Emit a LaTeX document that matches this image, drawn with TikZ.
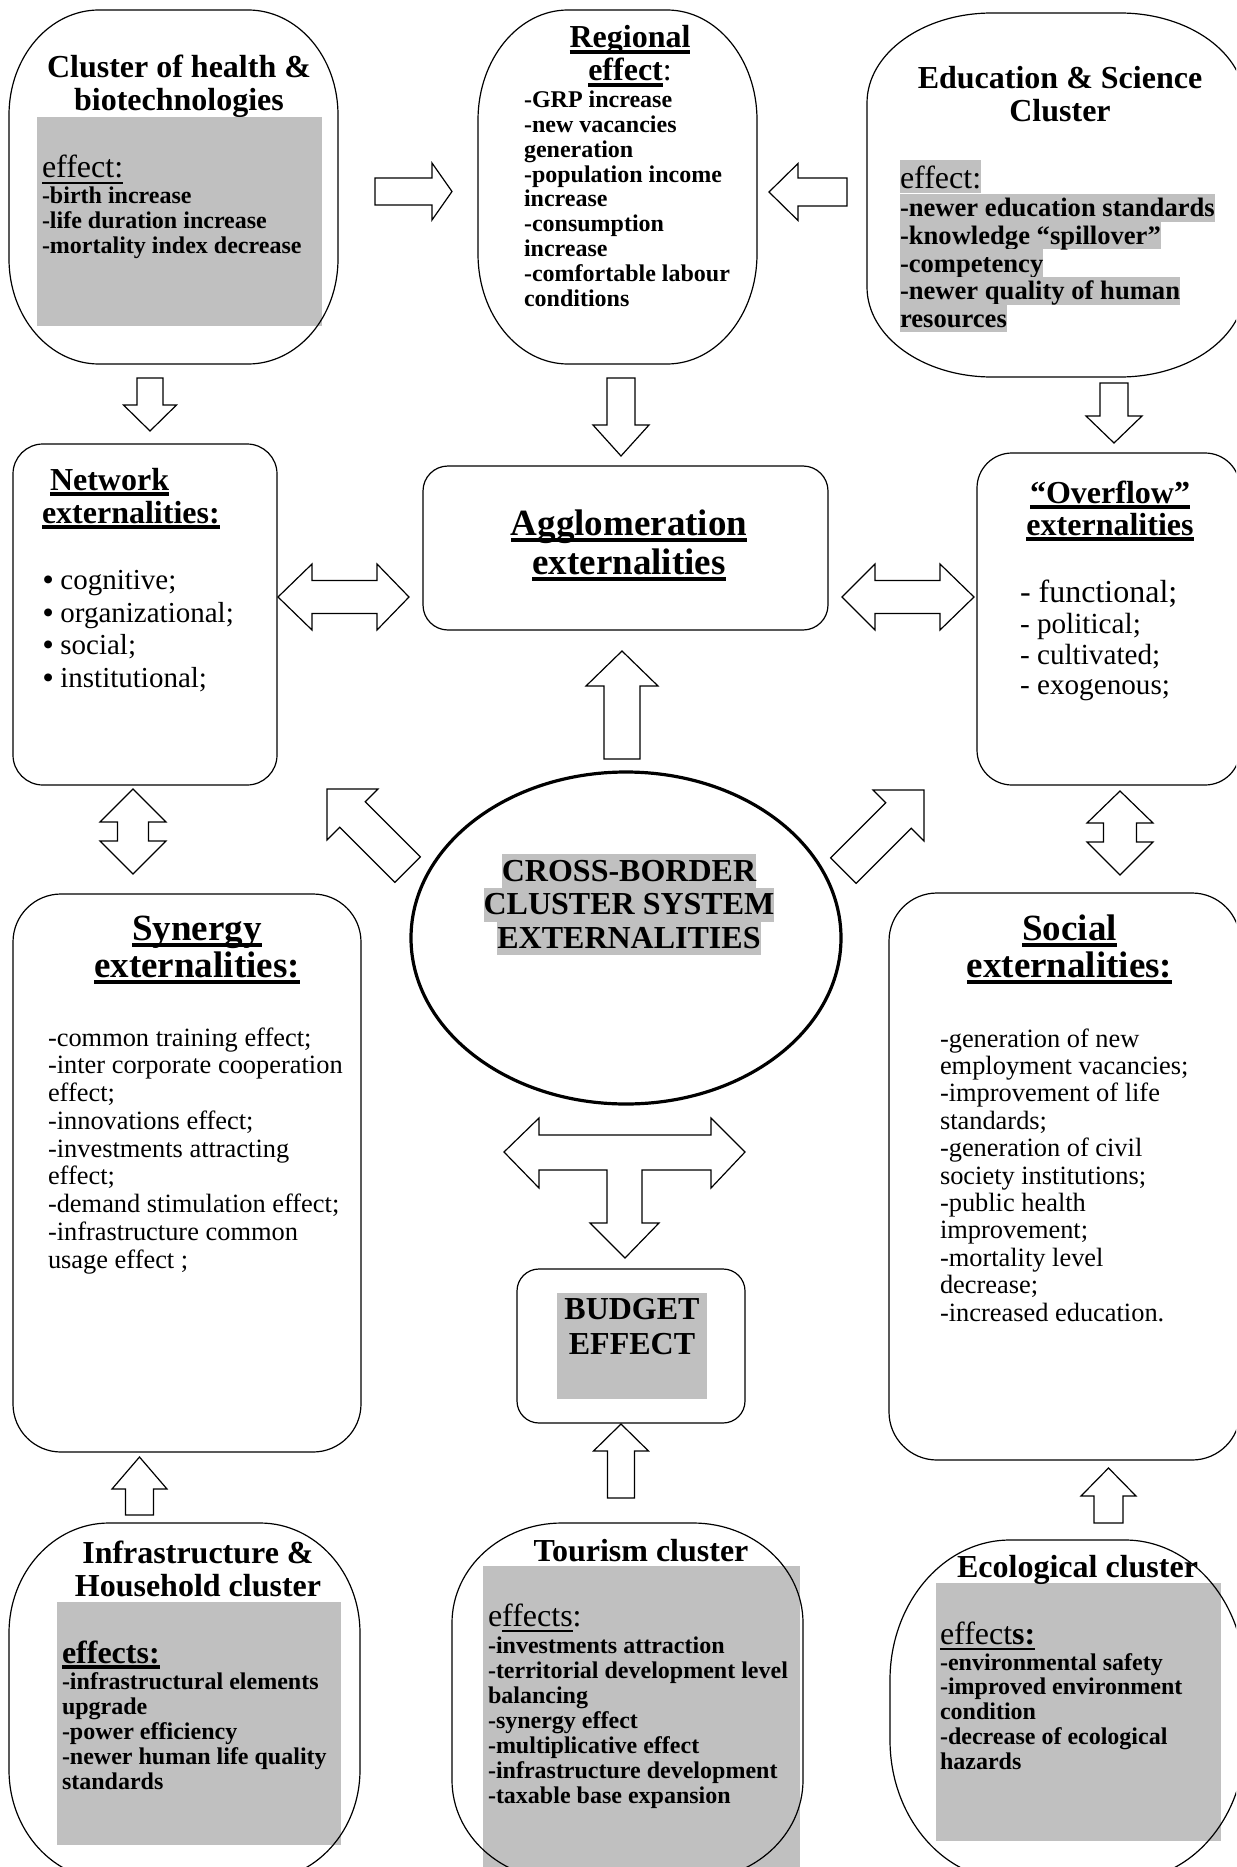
\documentclass[tikz,border=0pt]{standalone}
\usepackage{fontspec}
\setmainfont{Liberation Serif}
\usetikzlibrary{shapes.geometric}
\definecolor{hl}{RGB}{192,192,192}

% underline with a rule whose thickness follows the font size
\newcommand\undl[2][0.11em]{\leavevmode\setbox0=\hbox{#2}\rlap{\rule[-0.18em]{\wd0}{#1}}\box0}

% rectangle with elliptical corners: [style]{x1}{y1}{x2}{y2}{rx}{ry}
\newcommand\rrect[7][]{%
  \draw[#1] ({#2},{#3+#7}) .. controls ({#2},{#3+0.4477*#7}) and ({#2+0.4477*#6},{#3}) .. ({#2+#6},{#3})
    -- ({#4-#6},{#3}) .. controls ({#4-0.4477*#6},{#3}) and ({#4},{#3+0.4477*#7}) .. ({#4},{#3+#7})
    -- ({#4},{#5-#7}) .. controls ({#4},{#5-0.4477*#7}) and ({#4-0.4477*#6},{#5}) .. ({#4-#6},{#5})
    -- ({#2+#6},{#5}) .. controls ({#2+0.4477*#6},{#5}) and ({#2},{#5-0.4477*#7}) .. ({#2},{#5-#7})
    -- cycle;}

% vertical block arrow: {cx}{tip y}{head base y}{tail y}{head half}{body half}
\newcommand\vblk[7][]{%
  \draw[blockarrow,#1] ({#2},{#3}) -- ({#2+#6},{#4}) -- ({#2+#7},{#4}) -- ({#2+#7},{#5})
    -- ({#2-#7},{#5}) -- ({#2-#7},{#4}) -- ({#2-#6},{#4}) -- cycle;}
% horizontal block arrow: {cy}{tip x}{head base x}{tail x}{head half}{body half}
\newcommand\hblk[7][]{%
  \draw[blockarrow,#1] ({#3},{#2}) -- ({#4},{#2-#6}) -- ({#4},{#2-#7}) -- ({#5},{#2-#7})
    -- ({#5},{#2+#7}) -- ({#4},{#2+#7}) -- ({#4},{#2+#6}) -- cycle;}
% horizontal double block arrow: {cy}{left tip}{left base}{right base}{right tip}{head half}{body half}
\newcommand\hdbl[8][]{%
  \draw[blockarrow,#1] ({#3},{#2}) -- ({#4},{#2-#7}) -- ({#4},{#2-#8}) -- ({#5},{#2-#8})
    -- ({#5},{#2-#7}) -- ({#6},{#2}) -- ({#5},{#2+#7}) -- ({#5},{#2+#8}) -- ({#4},{#2+#8})
    -- ({#4},{#2+#7}) -- cycle;}
% vertical double block arrow: {cx}{top tip}{top base}{bottom base}{bottom tip}{head half}{body half}
\newcommand\vdbl[8][]{%
  \draw[blockarrow,#1] ({#2},{#3}) -- ({#2+#7},{#4}) -- ({#2+#8},{#4}) -- ({#2+#8},{#5})
    -- ({#2+#7},{#5}) -- ({#2},{#6}) -- ({#2-#7},{#5}) -- ({#2-#8},{#5}) -- ({#2-#8},{#4})
    -- ({#2-#7},{#4}) -- cycle;}

\tikzset{
  every node/.style={inner sep=0pt, outer sep=0pt},
  boxline/.style={draw=black, line width=0.6pt},
  blockarrow/.style={draw=black, line width=0.6pt, fill=white, line join=miter},
  ctr/.style={anchor=base},
  lft/.style={anchor=base west},
  ttlfont/.style={font=\fontsize{16}{16}\selectfont\bfseries},
  bigttlfont/.style={font=\fontsize{18.5}{18.5}\selectfont\bfseries},
  bolditem/.style={font=\fontsize{12}{12}\selectfont\bfseries, anchor=base west},
  efffont/.style={font=\fontsize{16}{16}\selectfont, anchor=base west},
  plainitem/.style={font=\fontsize{13.2}{13.2}\selectfont, anchor=base west},
  hlline/.style={fill=hl, anchor=base west, text height=11.6pt, text depth=2.4pt},
  hlcore/.style={fill=hl, anchor=base, text height=13.5pt, text depth=3.5pt},
}

\begin{document}
\begin{tikzpicture}[x=0.5pt, y=-0.5pt]
\useasboundingbox (0,0) rectangle (1236,1867);
\clip (0,0) rectangle (1236,1867);

% ---------- shaded panels ----------
\fill[hl] (37,117) rectangle (322,326);
\fill[hl] (57,1602) rectangle (341,1845);
\fill[hl] (483,1566) rectangle (800,1880);
\fill[hl] (936,1583) rectangle (1221,1841);
\fill[hl] (557,1293) rectangle (707,1399);

% ---------- cluster outlines ----------
\rrect[boxline]{9}{10}{338}{364}{90}{105}
\coordinate (health) at (173.5,187);
\rrect[boxline]{478}{10}{757}{364}{90}{110}
\coordinate (regional) at (617.5,187);
\rrect[boxline]{867}{13}{1245}{377}{125}{90}
\coordinate (education) at (1056,195);
\rrect[boxline]{9}{1523}{360}{1880}{100}{110}
\coordinate (infra) at (184.5,1700);
\rrect[boxline]{452}{1523}{803}{1880}{110}{100}
\coordinate (tourism) at (627.5,1700);
\rrect[boxline]{890}{1540}{1245}{1880}{120}{140}
\coordinate (ecology) at (1067.5,1710);

% ---------- externality boxes ----------
\node[boxline, rounded corners=15pt, minimum width=132pt, minimum height=170.5pt] (network) at (145,614.5) {};
\node[boxline, rounded corners=12.5pt, minimum width=202.5pt, minimum height=82pt] (agglo) at (625.5,548) {};
\node[boxline, rounded corners=17.5pt, minimum width=131.5pt, minimum height=166pt] (overflow) at (1108.5,619) {};
\node[boxline, rounded corners=24pt, minimum width=174pt, minimum height=279pt] (synergy) at (187,1173) {};
\node[boxline, rounded corners=24pt, minimum width=175.5pt, minimum height=283.5pt] (social) at (1064.5,1176.5) {};
\node[boxline, rounded corners=11pt, minimum width=114pt, minimum height=77pt] (budget) at (631,1346) {};
\node[draw=black, ellipse, line width=1.6pt, minimum width=215pt, minimum height=166pt] (core) at (626,938) {};

% ---------- block arrows ----------
\hblk{191.5}{452}{432}{375}{28.5}{13.5}
\hblk{192}{769}{798}{847}{28.5}{14}
\vblk{150}{431}{405}{378}{26.5}{13}
\vblk{621}{456}{425}{378}{28}{14}
\vblk{1114}{443}{416}{383}{28}{14}
\hdbl{597}{278}{312}{377}{409}{33}{16.5}
\hdbl{597}{842}{875}{940}{974}{33}{16.5}
\vblk{622}{651}{686}{759}{36}{18}
\begin{scope}[shift={(327,789)}, rotate=-45]
  \hblk{0}{0}{36}{114}{36}{18}
\end{scope}
\begin{scope}[shift={(924,790)}, rotate=-135]
  \hblk{0}{0}{36}{114}{36}{18}
\end{scope}
\vdbl{133}{789}{822}{841}{874}{33}{15.5}
\vdbl{1120}{791}{823}{842}{875}{33}{16.5}
\draw[blockarrow] (504,1152) -- (539,1118) -- (539,1135) -- (711,1135) -- (711,1118) -- (745,1152)
  -- (711,1188) -- (711,1170) -- (642,1170) -- (642,1223) -- (659,1223) -- (625,1258)
  -- (590,1223) -- (607,1223) -- (607,1170) -- (539,1170) -- (539,1188) -- cycle;
\vblk{621}{1424}{1451}{1498}{27.5}{13.5}
\vblk{139.5}{1457}{1489}{1515}{27.5}{14}
\vblk{1108.5}{1468}{1496}{1523}{27.5}{14.5}

% ---------- health cluster ----------
\node[ttlfont, ctr] (health-t1) at (179,78) {Cluster of health \&};
\node[ttlfont, ctr] (health-t2) at (179,111) {biotechnologies};
\node[efffont] (health-e) at (42,178) {\undl[0.07em]{effect:}};
\foreach \s [count=\i from 0] in {-birth increase,-life duration increase,-mortality index decrease}
  \node[bolditem] (health-\i) at (42,{203.5+25*\i}) {\s};

% ---------- regional effect ----------
\node[ttlfont, ctr] (regional-t1) at (630,48) {\undl{Regional}};
\node[ttlfont, ctr] (regional-t2) at (630,81) {\undl{effect}\mdseries:};
\foreach \s [count=\i from 0] in {-GRP increase,-new vacancies,generation,-population income,increase,-consumption,increase,-comfortable labour,conditions}
  \node[bolditem] (regional-\i) at (524,{108+24.75*\i}) {\s};

% ---------- education cluster ----------
\node[ttlfont, ctr] (education-t1) at (1060,89) {Education \& Science};
\node[ttlfont, ctr] (education-t2) at (1060,122) {Cluster};
\node[hlline, font=\fontsize{16}{16}\selectfont, text height=14.5pt, text depth=2pt] (education-e) at (900,189) {effect:};
\foreach \s [count=\i from 0] in {-newer education standards,-knowledge “spillover”,-competency,-newer quality of human,resources}
  \node[hlline, font=\fontsize{13.3}{13.3}\selectfont\bfseries] (education-\i) at (900,{217+27.6*\i}) {\s};

% ---------- network externalities ----------
\node[ttlfont, lft] (network-t1) at (50,490) {\undl{Network}};
\node[ttlfont, lft] (network-t2) at (42,523) {\undl{externalities:}};
\foreach \s [count=\i from 0] in {cognitive;,organizational;,social;,institutional;}
  \node[lft, font=\fontsize{14.5}{14.5}\selectfont] (network-\i) at (43,{589.5+32.7*\i}) {{\bfseries\textbullet}\ \s};

% ---------- agglomeration externalities ----------
\node[bigttlfont, ctr] (agglo-t1) at (629,535) {\undl{Agglomeration}};
\node[bigttlfont, ctr] (agglo-t2) at (629,574) {\undl{externalities}};

% ---------- overflow externalities ----------
\node[ttlfont, ctr] (overflow-t1) at (1110,503) {\undl{“Overflow”}};
\node[ttlfont, ctr] (overflow-t2) at (1110,535) {\undl{externalities}};
\node[lft, font=\fontsize{16}{16}\selectfont] (overflow-0) at (1020,602) {- functional;};
\node[lft, font=\fontsize{14.6}{14.6}\selectfont] (overflow-1) at (1020,633) {- political;};
\node[lft, font=\fontsize{14.6}{14.6}\selectfont] (overflow-2) at (1020,664) {- cultivated;};
\node[lft, font=\fontsize{14.6}{14.6}\selectfont] (overflow-3) at (1020,694) {- exogenous;};

% ---------- cross-border core ----------
\node[hlcore, font=\fontsize{16}{16}\selectfont\bfseries] (core-1) at (629,881) {CROSS-BORDER};
\node[hlcore, font=\fontsize{16}{16}\selectfont\bfseries] (core-2) at (629,914.5) {CLUSTER SYSTEM};
\node[hlcore, font=\fontsize{16}{16}\selectfont\bfseries] (core-3) at (629,948) {EXTERNALITIES};

% ---------- synergy externalities ----------
\node[bigttlfont, ctr] (synergy-t1) at (197,940) {\undl{Synergy}};
\node[bigttlfont, ctr] (synergy-t2) at (197,977) {\undl{externalities:}};
\foreach \s [count=\i from 0] in {-common training effect;,-inter corporate cooperation,effect;,-innovations effect;,-investments attracting,effect;,-demand stimulation effect;,-infrastructure common,usage effect ;}
  \node[plainitem] (synergy-\i) at (48,{1046+27.75*\i}) {\s};

% ---------- social externalities ----------
\node[bigttlfont, ctr] (social-t1) at (1069.5,940) {\undl{Social}};
\node[bigttlfont, ctr] (social-t2) at (1069.5,977) {\undl{externalities:}};
\foreach \s [count=\i from 0] in {-generation of new,employment vacancies;,-improvement of life,standards;,-generation of civil,society institutions;,-public health,improvement;,-mortality level,decrease;,-increased education.}
  \node[plainitem] (social-\i) at (940,{1047+27.4*\i}) {\s};

% ---------- budget effect ----------
\node[ttlfont, ctr] (budget-t1) at (632,1319) {BUDGET};
\node[ttlfont, ctr] (budget-t2) at (632,1354) {EFFECT};

% ---------- infrastructure cluster ----------
\node[ttlfont, ctr] (infra-t1) at (198,1563) {Infrastructure \&};
\node[ttlfont, ctr] (infra-t2) at (198,1596) {Household cluster};
\node[ttlfont, lft] (infra-e) at (62,1663) {\undl[0.13em]{effects:}};
\foreach \s [count=\i from 0] in {-infrastructural elements,upgrade,-power efficiency,-newer human life quality,standards}
  \node[bolditem] (infra-\i) at (62,{1689.5+24.9*\i}) {\s};

% ---------- tourism cluster ----------
\node[ttlfont, ctr] (tourism-t) at (641,1561) {Tourism cluster};
\node[efffont] (tourism-e) at (488,1626) {e\undl[0.07em]{ffects}:};
\foreach \s [count=\i from 0] in {-investments attraction,-territorial development level,balancing,-synergy effect,-multiplicative effect,-infrastructure development,-taxable base expansion}
  \node[bolditem] (tourism-\i) at (488,{1653.5+25*\i}) {\s};

% ---------- ecological cluster ----------
\node[ttlfont, ctr] (ecology-t) at (1077.5,1577) {Ecological cluster};
\node[efffont] (ecology-e) at (940,1644) {\undl[0.07em]{effect\textbf{s:}}};
\foreach \s [count=\i from 0] in {-environmental safety,-improved environment,condition,-decrease of ecological,hazards}
  \node[bolditem] (ecology-\i) at (940,{1670+24.9*\i}) {\s};

\end{tikzpicture}
\end{document}
